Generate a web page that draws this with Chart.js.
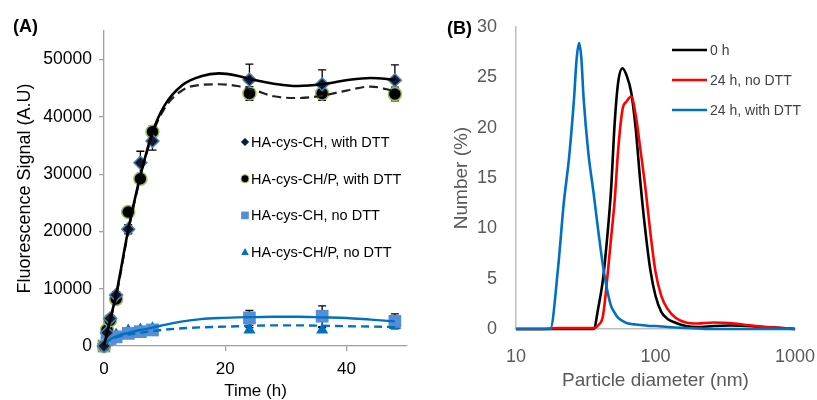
<!DOCTYPE html>
<html><head><meta charset="utf-8">
<script src="https://cdn.jsdelivr.net/npm/chart.js@4.4.1/dist/chart.umd.min.js"></script>
<style>
html,body{margin:0;padding:0;background:#fff;overflow:hidden;width:817px;height:400px}
.wrap{position:absolute;top:0;height:400px}
#wrapA{left:0;width:420px}
#wrapB{left:420px;width:397px}
.panel{position:absolute;font-family:'Liberation Sans',Arial,Helvetica,sans-serif;font-weight:bold;font-size:18px;color:#000;line-height:18px}
</style></head><body>
<div class="wrap" id="wrapA"><canvas id="cA" width="420" height="400"></canvas></div>
<div class="wrap" id="wrapB"><canvas id="cB" width="397" height="400"></canvas></div>
<div class="panel" style="left:13px;top:17px">(A)</div>
<div class="panel" style="left:447px;top:19px">(B)</div>
<script>
const FONT = "'Liberation Sans', Arial, Helvetica, sans-serif";

// ---------- Panel A data ----------
const timeHours     = [0, 0.5, 1, 2, 4, 6, 8, 24, 36, 48];
const cysDTT        = [0, 2300, 4800, 8900, 20400, 32000, 35800, 46500, 45700, 46400];
const cysDTTErr     = [200, 300, 400, 600, 800, 2000, 1600, 2700, 2500, 2700];
const cysPDTT       = [0, 2800, 4500, 8200, 23400, 29200, 37400, 44100, 44100, 44000];
const cysPDTTErr    = [200, 300, 400, 500, 700, 700, 1000, 1200, 1200, 1200];
const cysNoDTT      = [0, 1100, 1300, 1600, 2200, 2500, 2800, 4900, 5200, 4300];
const cysNoDTTErr   = [100, 200, 200, 300, 300, 300, 400, 1300, 1800, 1300];
const cysPNoDTT     = [0, 900, 1500, 2000, 2700, 2900, 3100, 2800, 2800, 3600];
const cysPNoDTTErr  = [100, 100, 200, 200, 300, 300, 300, 400, 400, 400];

const fitTime       = [0, 1, 2, 4, 6, 8, 10, 13, 16, 19, 22, 25, 28, 32, 36, 40, 44, 48];
const fitCysDTT     = [0, 4500, 9000, 20300, 29700, 37300, 42000, 45600, 47100, 47600, 47200, 46400, 45800, 45400, 45700, 46400, 46800, 46500];
const fitCysPDTT    = [0, 4300, 8600, 20000, 29500, 37000, 41500, 44700, 45600, 45700, 45400, 44600, 43600, 43300, 43700, 44600, 45300, 44500];
const fitCysNoDTT   = [300, 1200, 1700, 2300, 2800, 3200, 3700, 4300, 4700, 4900, 5000, 5050, 5100, 5100, 5000, 4900, 4600, 4300];
const fitCysPNoDTT  = [200, 1000, 1500, 2000, 2300, 2600, 2850, 3100, 3250, 3350, 3450, 3550, 3600, 3600, 3550, 3450, 3400, 3300];

const xTicksA = [0, 20, 40];
const yTicksA = [0, 10000, 20000, 30000, 40000, 50000];
const labelsA = ['HA-cys-CH, with DTT', 'HA-cys-CH/P, with DTT', 'HA-cys-CH, no DTT', 'HA-cys-CH/P, no DTT'];

// ---------- Panel B data ----------
const diameterNm    = [10, 15, 17.6, 20, 22, 24, 26, 27.2, 28.3, 29.4, 30.5, 33, 36, 39, 42, 45, 48, 51, 54, 58, 62, 67, 72, 78, 85, 92, 100, 110, 122, 140, 165, 200, 260, 340, 450, 600, 800, 1000];
const number0h      = [0, 0, 0, 0, 0, 0, 0, 0, 0, 0, 0, 0, 0, 2.2, 4.9, 9, 13.8, 20.5, 24.5, 25.9, 25.2, 23.5, 20, 14.5, 9.5, 5.8, 3.3, 1.7, 1.0, 0.6, 0.3, 0.2, 0.3, 0.35, 0.3, 0.2, 0.1, 0];
const number24hNo   = [0, 0, 0.05, 0.1, 0.1, 0.1, 0.1, 0.1, 0.1, 0.1, 0.1, 0.1, 0.1, 0.4, 1.3, 4.9, 9, 12.8, 17.8, 21.8, 22.6, 23.1, 21.3, 17.8, 13.8, 9.5, 5.7, 3.3, 2.0, 1.1, 0.65, 0.55, 0.65, 0.6, 0.4, 0.2, 0.1, 0];
const number24hDTT  = [0, 0, 0, 6, 12.5, 17, 22.7, 26.8, 28.4, 26.9, 23, 17.5, 13.5, 9.6, 6.3, 3.9, 2.3, 1.6, 1.1, 0.8, 0.6, 0.5, 0.45, 0.4, 0.35, 0.3, 0.3, 0.25, 0.2, 0.15, 0.1, 0.05, 0, 0, 0, 0, 0, 0];
const xTicksB = [10, 100, 1000];
const yTicksB = [0, 5, 10, 15, 20, 25, 30];
const labelsB = ['0 h', '24 h, no DTT', '24 h, with DTT'];

// ---------- helpers ----------
const pts = (xs, ys) => xs.map((x, i) => ({x: x, y: ys[i]}));

function drawMarker(ctx, style, x, y, r, fill, stroke, lw) {
  ctx.beginPath();
  if (style === 'circle') ctx.arc(x, y, r, 0, Math.PI * 2);
  else if (style === 'rectRot') { ctx.moveTo(x, y - r); ctx.lineTo(x + r, y); ctx.lineTo(x, y + r); ctx.lineTo(x - r, y); ctx.closePath(); }
  else if (style === 'rect') { const s = r * 0.85; ctx.rect(x - s, y - s, 2 * s, 2 * s); }
  else if (style === 'triangle') { ctx.moveTo(x, y - r); ctx.lineTo(x + r * 0.95, y + r * 0.7); ctx.lineTo(x - r * 0.95, y + r * 0.7); ctx.closePath(); }
  ctx.fillStyle = fill; ctx.fill();
  if (lw > 0) { ctx.lineWidth = lw; ctx.strokeStyle = stroke; ctx.stroke(); }
}

const errorBars = {
  id: 'errorBars',
  beforeDatasetsDraw(chart) {
    const ctx = chart.ctx, xs = chart.scales.x, ys = chart.scales.y;
    ctx.save();
    ctx.strokeStyle = '#000'; ctx.lineWidth = 1.3;
    chart.data.datasets.forEach(ds => {
      if (!ds.errors) return;
      ds.data.forEach((p, i) => {
        const e = ds.errors[i]; if (!e) return;
        const px = xs.getPixelForValue(p.x);
        const y1 = ys.getPixelForValue(p.y + e), y2 = ys.getPixelForValue(p.y - e);
        ctx.beginPath();
        ctx.moveTo(px, y1); ctx.lineTo(px, y2);
        ctx.moveTo(px - 4, y1); ctx.lineTo(px + 4, y1);
        ctx.moveTo(px - 4, y2); ctx.lineTo(px + 4, y2);
        ctx.stroke();
      });
    });
    ctx.restore();
  }
};

const legendA = {
  id: 'legendA',
  afterDraw(chart) {
    const ctx = chart.ctx;
    ctx.save();
    ctx.font = '14.5px ' + FONT; ctx.textBaseline = 'middle'; ctx.textAlign = 'left';
    const rows = chart.data.datasets.filter(d => d.legendRow !== undefined);
    rows.forEach(ds => {
      const y = 142 + ds.legendRow * 36.7;
      drawMarker(ctx, ds.pointStyle, 245, y, ds.pointStyle === 'rect' ? 4.5 : 4, ds.backgroundColor, ds.borderColor, ds.pointBorderWidth ? 1 : 0);
      ctx.fillStyle = '#000';
      ctx.fillText(ds.label, 251, y + 1);
    });
    ctx.restore();
  }
};

const legendB = {
  id: 'legendB',
  afterDraw(chart) {
    const ctx = chart.ctx;
    ctx.save();
    ctx.font = '14px ' + FONT; ctx.textBaseline = 'middle'; ctx.textAlign = 'left';
    chart.data.datasets.forEach(ds => {
      const y = 50 + ds.legendRow * 30;
      ctx.strokeStyle = ds.borderColor; ctx.lineWidth = 2.5;
      ctx.beginPath(); ctx.moveTo(252, y); ctx.lineTo(287, y); ctx.stroke();
      ctx.fillStyle = '#404040';
      ctx.fillText(ds.label, 290, y + 1);
    });
    ctx.restore();
  }
};

// ---------- Chart A ----------
const scat = (label, data, err, style, r, fill, border, bw, row) => ({
  type: 'scatter', label: label, data: data, errors: err, legendRow: row,
  pointStyle: style, pointRadius: r, pointHoverRadius: r,
  backgroundColor: fill, borderColor: border, pointBorderWidth: bw, borderWidth: bw,
  showLine: false, clip: false, order: 2
});
const curve = (data, color, dash, w) => ({
  type: 'line', data: data, borderColor: color, borderWidth: w, borderDash: dash,
  pointRadius: 0, fill: false, cubicInterpolationMode: 'monotone', clip: false, order: 1
});
const noPad = s => { s.paddingLeft = 0; s.paddingRight = 0; };

new Chart(document.getElementById('cA'), {
  type: 'scatter',
  data: {
    datasets: [
      curve(pts(fitTime, fitCysDTT), '#000', [], 2.6),
      curve(pts(fitTime, fitCysPDTT), '#222', [9, 5], 2.2),
      curve(pts(fitTime, fitCysNoDTT), '#0070c0', [], 2.4),
      curve(pts(fitTime, fitCysPNoDTT), '#0070c0', [8, 5], 2.4),
      scat(labelsA[0], pts(timeHours, cysDTT), cysDTTErr, 'rectRot', 6.5, '#141a2e', '#4f81bd', 1.5, 0),
      scat(labelsA[1], pts(timeHours, cysPDTT), cysPDTTErr, 'circle', 6.5, '#000', '#9bbb59', 1.5, 1),
      scat(labelsA[2], pts(timeHours, cysNoDTT), cysNoDTTErr, 'rect', 9, '#558ed5', '#558ed5', 0, 2),
      scat(labelsA[3], pts(timeHours, cysPNoDTT), cysPNoDTTErr, 'triangle', 7, '#0070c0', '#0070c0', 0, 3)
    ]
  },
  options: {
    responsive: false, animation: false, devicePixelRatio: 1,
    layout: {padding: {top: 31, right: 13, left: 0, bottom: 0}},
    plugins: {legend: {display: false}, tooltip: {enabled: false}},
    scales: {
      x: {
        type: 'linear', min: 0, max: 50,
        afterBuildTicks: s => { s.ticks = xTicksA.map(v => ({value: v})); },
        afterFit: s => { s.height = 54; noPad(s); },
        ticks: {color: '#000', font: {family: FONT, size: 17}, padding: 8, maxRotation: 0},
        grid: {display: true, drawOnChartArea: false, drawTicks: true, tickLength: 5, color: '#a0a0a0', lineWidth: 1.3},
        border: {display: true, color: '#a0a0a0', width: 1.3},
        title: {display: true, text: 'Time (h)', color: '#000', font: {family: FONT, size: 17, lineHeight: 1}, padding: {top: 0, bottom: 0}}
      },
      y: {
        type: 'linear', min: 0, max: 55000,
        afterBuildTicks: s => { s.ticks = yTicksA.map(v => ({value: v})); },
        afterFit: s => { s.width = 104; },
        ticks: {color: '#000', font: {family: FONT, size: 17.5}, padding: 7, callback: v => String(v)},
        grid: {display: true, drawOnChartArea: false, drawTicks: true, tickLength: 5, color: '#a0a0a0', lineWidth: 1.3},
        border: {display: true, color: '#a0a0a0', width: 1.3},
        title: {display: true, text: 'Fluorescence Signal (A.U)', color: '#000', font: {family: FONT, size: 18, lineHeight: 1}, padding: {top: 16, bottom: 0}}
      }
    }
  },
  plugins: [errorBars, legendA]
});

// ---------- Chart B ----------
const dline = (label, ys, color, row, order) => ({
  label: label, data: pts(diameterNm, ys), borderColor: color, backgroundColor: color,
  borderWidth: 2.6, pointRadius: 0, fill: false, cubicInterpolationMode: 'monotone',
  legendRow: row, order: order, clip: false
});

new Chart(document.getElementById('cB'), {
  type: 'line',
  data: {
    datasets: [
      dline(labelsB[0], number0h, '#000000', 0, 3),
      dline(labelsB[1], number24hNo, '#ff0000', 1, 2),
      dline(labelsB[2], number24hDTT, '#0070c0', 2, 1)
    ]
  },
  options: {
    responsive: false, animation: false, devicePixelRatio: 1,
    layout: {padding: {top: 27, right: 22, left: 0, bottom: 0}},
    plugins: {legend: {display: false}, tooltip: {enabled: false}},
    scales: {
      x: {
        type: 'logarithmic', min: 10, max: 1000,
        afterBuildTicks: s => { s.ticks = xTicksB.map(v => ({value: v})); },
        afterFit: s => { s.height = 71; noPad(s); },
        ticks: {color: '#595959', font: {family: FONT, size: 18}, padding: 9, maxRotation: 0, autoSkip: false, callback: v => String(v)},
        grid: {display: false},
        border: {display: true, color: '#bfbfbf', width: 1.5},
        title: {display: true, text: 'Particle diameter (nm)', color: '#595959', font: {family: FONT, size: 19, lineHeight: 1}, padding: {top: 0, bottom: 10}}
      },
      y: {
        type: 'linear', min: 0, max: 30,
        afterBuildTicks: s => { s.ticks = yTicksB.map(v => ({value: v})); },
        afterFit: s => { s.width = 96; },
        ticks: {color: '#595959', font: {family: FONT, size: 18}, padding: 11},
        grid: {display: false},
        border: {display: true, color: '#bfbfbf', width: 1.5},
        title: {display: true, text: 'Number (%)', color: '#595959', font: {family: FONT, size: 19, lineHeight: 1}, padding: {top: 32, bottom: 0}}
      }
    }
  },
  plugins: [legendB]
});
</script>
</body></html>
